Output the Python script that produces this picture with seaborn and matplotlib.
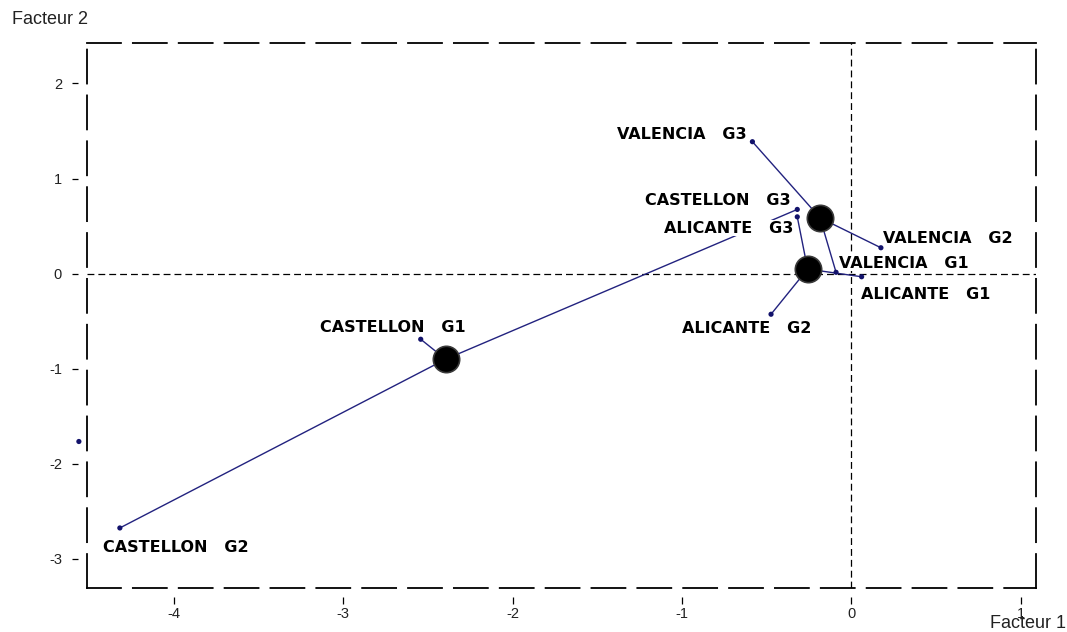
import numpy as np
import pandas as pd
import matplotlib
matplotlib.use("Agg")
import matplotlib.pyplot as plt
import seaborn as sns
from matplotlib.path import Path
from matplotlib.markers import MarkerStyle

# ---------------- data ----------------
regions = ["VALENCIA", "VALENCIA", "VALENCIA",
           "ALICANTE", "ALICANTE", "ALICANTE",
           "CASTELLON", "CASTELLON", "CASTELLON"]
groups = ["G1", "G2", "G3"] * 3
factor1 = [-0.090, 0.175, -0.584, 0.061, -0.474, -0.319, -2.543, -4.320, -0.319]
factor2 = [0.014, 0.272, 1.387, -0.033, -0.427, 0.597, -0.690, -2.674, 0.675]

centroid_regions = ["VALENCIA", "ALICANTE", "CASTELLON"]
centroid_f1 = [-0.185, -0.258, -2.396]
centroid_f2 = [0.587, 0.048, -0.900]

extra_f1 = [-4.562]
extra_f2 = [-1.765]

xticks = [-4, -3, -2, -1, 0, 1]
yticks = [-3, -2, -1, 0, 1, 2]
xlim = (-4.517, 1.088)
ylim = (-3.30, 2.43)

# label placement: (dx px, dy px of visual centre, horizontal alignment)
label_offsets = [(3, 10.3, "left"), (2, 11, "left"), (-6, 8.5, "right"),
                 (-0.7, -16.3, "left"), (-24, -13.2, "center"), (-4.3, -10, "right"),
                 (-28, 13.3, "center"), (-17, -18.4, "left"), (-6.6, 10.3, "right")]

# ---------------- figure ----------------
sns.set_style("white")
plt.rcParams["font.family"] = ["Liberation Sans", "DejaVu Sans"]

W, H = 1067, 632
fig = plt.figure(figsize=(W / 100, H / 100), dpi=100)
ax = fig.add_axes([86.5 / W, (H - 587.5) / H, 949 / W, 545 / H])

df = pd.DataFrame({"region": regions, "group": groups, "f1": factor1, "f2": factor2})
df["label"] = df["region"] + "   " + df["group"]
cent = pd.DataFrame({"region": centroid_regions, "f1": centroid_f1, "f2": centroid_f2}).set_index("region")

line_color = "#22227f"
dot_color = "#12126b"

# reference lines
ax.axhline(0, color="black", lw=0.9, ls=(0, (5.5, 3.2)), zorder=1)
ax.axvline(0, color="black", lw=0.9, ls=(0, (5.5, 3.2)), zorder=1)

# connecting lines centroid -> group point
for _, r in df.iterrows():
    c = cent.loc[r["region"]]
    ax.plot([c["f1"], r["f1"]], [c["f2"], r["f2"]], color=line_color, lw=1.0, zorder=2)

# labels
cap_px = 11.5 * 100 / 72 * 0.729
for (_, r), (dx, dy, ha) in zip(df.iterrows(), label_offsets):
    ax.annotate(r["label"], (r["f1"], r["f2"]), xytext=(dx, dy - cap_px / 2),
                textcoords="offset pixels", ha=ha, va="baseline",
                fontfamily="DejaVu Sans", fontweight="bold", fontsize=11.5,
                color="black", zorder=3,
                bbox=dict(facecolor="white", edgecolor="none", pad=0.4))

# points
sns.scatterplot(data=df, x="f1", y="f2", color=dot_color, s=14, edgecolor="none",
                ax=ax, zorder=4, legend=False)
sns.scatterplot(x=extra_f1, y=extra_f2, color=dot_color, s=14, edgecolor="none",
                ax=ax, zorder=4, legend=False, clip_on=False)
sns.scatterplot(data=cent.reset_index(), x="f1", y="f2", color="black", s=360,
                edgecolor="#3a3a3a", linewidth=1.2, ax=ax, zorder=5, legend=False)

ax.set_xlim(*xlim)
ax.set_ylim(*ylim)

# frame
for sp in ax.spines.values():
    sp.set_visible(True)
    sp.set_color("black")
    sp.set_linewidth(1.3)
    sp.set_linestyle((0, (18.8, 6.6)))

# ticks
ax.set_xticks(xticks)
ax.set_yticks(yticks)
ax.set_xticklabels([str(t) for t in xticks])
ax.set_yticklabels([str(t) for t in yticks])
ax.tick_params(axis="x", direction="out", length=23, width=0.9, pad=-8.8,
               labelsize=10.5, labelcolor="#222222", color="black", bottom=True, top=False)
ax.tick_params(axis="y", direction="out", length=20.9, width=0.9, pad=-3.3,
               labelsize=10.5, labelcolor="#222222", color="black", left=True, right=False)
xm = MarkerStyle(Path([(0, -16), (0, -9)]))
ym = MarkerStyle(Path([(-14.5, 0), (-8.5, 0)]))
for t in ax.xaxis.get_major_ticks():
    t.tick1line.set_marker(xm)
for t in ax.yaxis.get_major_ticks():
    t.tick1line.set_marker(ym)

# axis titles
ax.set_xlabel("Facteur 1", fontsize=13, color="#222222", ha="center", va="top")
ax.xaxis.set_label_coords(0.992, -0.0505)
ax.set_ylabel("Facteur 2", fontsize=13, color="#222222", rotation=0, ha="left", va="center")
ax.yaxis.set_label_coords(-0.0788, 1.042)

fig.savefig("out.png", dpi=100)
